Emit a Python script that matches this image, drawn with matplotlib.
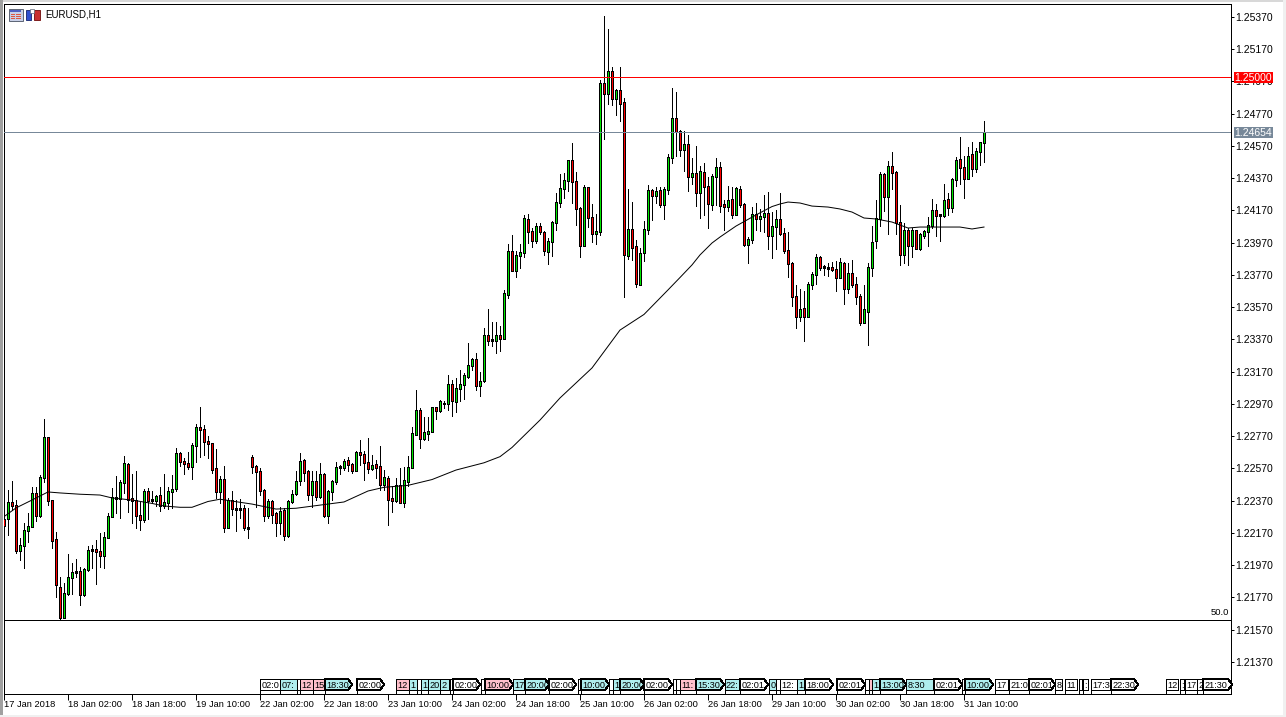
import numpy as np
import matplotlib
matplotlib.use('Agg')
import matplotlib.pyplot as plt
from matplotlib.patches import Polygon, Rectangle
from matplotlib.transforms import blended_transform_factory

plt.rcParams['font.family'] = ['Liberation Sans', 'DejaVu Sans']

W, H = 1286, 717

opens = [
    1.22254,1.22260,1.22359,1.22341,1.22060,1.22093,1.22186,1.22211,1.22415,1.22277,
    1.22514,1.22762,1.22372,1.22130,1.21832,1.21644,1.21793,1.21894,1.21932,1.21932,
    1.21787,1.21944,1.22068,1.22068,1.22056,1.22029,1.22142,1.22273,1.22384,1.22384,
    1.22483,1.22595,1.22384,1.22374,1.22279,1.22254,1.22428,1.22378,1.22370,1.22403,
    1.22337,1.22359,1.22426,1.22446,1.22663,1.22614,1.22601,1.22581,1.22713,1.22825,
    1.22812,1.22738,1.22725,1.22570,1.22426,1.22502,1.22204,1.22370,1.22322,1.22322,
    1.22322,1.22204,1.22639,1.22584,1.22553,1.22435,1.22278,1.22362,1.22288,1.22234,
    1.22307,1.22154,1.22367,1.22412,1.22495,1.22617,1.22548,1.22408,1.22491,1.22395,
    1.22534,1.22278,1.22429,1.22491,1.22575,1.22577,1.22617,1.22596,1.22555,1.22670,
    1.22658,1.22608,1.22569,1.22592,1.22580,1.22470,1.22509,1.22381,1.22371,1.22464,
    1.22360,1.22489,1.22577,1.22782,1.22927,1.22755,1.22786,1.22799,1.22945,1.22929,
    1.22970,1.22970,1.23088,1.22985,1.23067,1.23092,1.23142,1.23210,1.23243,1.23084,
    1.23115,1.23396,1.23367,1.23363,1.23396,1.23375,1.23648,1.23917,1.23799,1.23892,
    1.23908,1.24115,1.24039,1.23983,1.24072,1.24034,1.23915,1.23979,1.24096,1.24220,
    1.24307,1.24355,1.24477,1.24351,1.24183,1.23952,1.24313,1.24127,1.24028,1.24041,
    1.24958,1.24896,1.25033,1.24865,1.24915,1.24840,1.23890,1.24053,1.23948,1.23710,
    1.23910,1.24053,1.24295,1.24262,1.24291,1.24206,1.24299,1.24499,1.24741,1.24661,
    1.24547,1.24580,1.24379,1.24400,1.24280,1.24406,1.24319,1.24206,1.24379,1.24437,
    1.24204,1.24194,1.24239,1.24144,1.24301,1.24208,1.23956,1.23987,1.24146,1.24119,
    1.24132,1.24152,1.24014,1.24070,1.24115,1.24028,1.23923,1.23842,1.23638,1.23511,
    1.23563,1.23514,1.23712,1.23772,1.23879,1.23822,1.23817,1.23817,1.23805,1.23755,
    1.23842,1.23687,1.23780,1.23712,1.23638,1.23474,1.23545,1.23817,1.23983,1.24119,
    1.24394,1.24256,1.24444,1.24406,1.24096,1.23898,1.24047,1.23952,1.24047,1.23933,
    1.24012,1.24041,1.24078,1.24171,1.24142,1.24136,1.24239,1.24189,1.24363,1.24487,
    1.24437,1.24369,1.24518,1.24431,1.24537,1.24593]

highs = [
    1.22271,1.22436,1.22492,1.22374,1.22136,1.22233,1.22291,1.22452,1.22452,1.22529,
    1.22876,1.22762,1.22372,1.22175,1.21898,1.21857,1.22039,1.21981,1.22008,1.21956,
    1.21950,1.22089,1.22095,1.22126,1.22167,1.22178,1.22295,1.22446,1.22523,1.22498,
    1.22647,1.22601,1.22535,1.22554,1.22364,1.22440,1.22446,1.22432,1.22405,1.22452,
    1.22535,1.22452,1.22529,1.22694,1.22674,1.22632,1.22674,1.22725,1.22845,1.22949,
    1.22839,1.22771,1.22729,1.22688,1.22523,1.22585,1.22384,1.22430,1.22374,1.22382,
    1.22343,1.22322,1.22652,1.22594,1.22573,1.22441,1.22379,1.22375,1.22302,1.22329,
    1.22327,1.22375,1.22437,1.22551,1.22668,1.22627,1.22561,1.22551,1.22551,1.22602,
    1.22544,1.22437,1.22499,1.22610,1.22592,1.22627,1.22639,1.22602,1.22681,1.22747,
    1.22675,1.22757,1.22652,1.22623,1.22710,1.22561,1.22520,1.22462,1.22509,1.22571,
    1.22577,1.22648,1.22825,1.23057,1.22943,1.22892,1.22892,1.22949,1.22954,1.22995,
    1.22991,1.23150,1.23119,1.23129,1.23181,1.23164,1.23346,1.23253,1.23284,1.23171,
    1.23439,1.23559,1.23480,1.23480,1.23454,1.23677,1.23962,1.24018,1.23921,1.23962,
    1.24142,1.24148,1.24059,1.24094,1.24090,1.24043,1.23997,1.24107,1.24276,1.24396,
    1.24400,1.24483,1.24586,1.24406,1.24194,1.24328,1.24318,1.24210,1.24148,1.24979,
    1.25376,1.25295,1.25057,1.24921,1.25057,1.24865,1.24301,1.24222,1.23987,1.23935,
    1.24105,1.24328,1.24301,1.24317,1.24317,1.24313,1.24520,1.24927,1.24902,1.24669,
    1.24663,1.24638,1.24493,1.24570,1.24446,1.24466,1.24379,1.24396,1.24493,1.24470,
    1.24235,1.24322,1.24318,1.24313,1.24322,1.24218,1.24008,1.24194,1.24214,1.24181,
    1.24266,1.24282,1.24163,1.24173,1.24276,1.24059,1.24039,1.23853,1.23708,1.23681,
    1.23671,1.23729,1.23791,1.23900,1.23888,1.23834,1.23842,1.23853,1.23859,1.23873,
    1.23853,1.23842,1.23863,1.23759,1.23652,1.23708,1.23846,1.24074,1.24235,1.24409,
    1.24400,1.24477,1.24533,1.24417,1.24204,1.24090,1.24059,1.24059,1.24049,1.24028,
    1.24049,1.24127,1.24241,1.24210,1.24148,1.24334,1.24276,1.24369,1.24499,1.24624,
    1.24508,1.24561,1.24593,1.24555,1.24597,1.24725]

lows = [
    1.22163,1.22157,1.22312,1.22043,1.22002,1.21954,1.22116,1.22204,1.22246,1.22271,
    1.22488,1.22343,1.22078,1.21770,1.21634,1.21640,1.21785,1.21791,1.21898,1.21725,
    1.21779,1.21936,1.21950,1.21853,1.21960,1.21954,1.22136,1.22266,1.22291,1.22260,
    1.22415,1.22302,1.22229,1.22198,1.22188,1.22240,1.22254,1.22357,1.22337,1.22308,
    1.22322,1.22316,1.22322,1.22432,1.22587,1.22535,1.22566,1.22506,1.22612,1.22643,
    1.22653,1.22632,1.22539,1.22388,1.22353,1.22178,1.22202,1.22281,1.22184,1.22260,
    1.22188,1.22140,1.22544,1.22333,1.22408,1.22247,1.22261,1.22234,1.22152,1.22164,
    1.22127,1.22147,1.22358,1.22406,1.22468,1.22489,1.22375,1.22329,1.22375,1.22385,
    1.22271,1.22234,1.22375,1.22474,1.22536,1.22561,1.22551,1.22544,1.22551,1.22592,
    1.22499,1.22540,1.22561,1.22509,1.22437,1.22437,1.22220,1.22302,1.22364,1.22355,
    1.22333,1.22458,1.22571,1.22778,1.22699,1.22747,1.22747,1.22797,1.22875,1.22923,
    1.22947,1.22933,1.22896,1.22923,1.22991,1.22999,1.23129,1.23181,1.23057,1.23020,
    1.23109,1.23336,1.23330,1.23288,1.23301,1.23371,1.23625,1.23797,1.23760,1.23815,
    1.23884,1.23970,1.23941,1.23970,1.24024,1.23894,1.23838,1.23888,1.24049,1.24194,
    1.24245,1.24291,1.24218,1.24080,1.23884,1.23950,1.24070,1.23976,1.23962,1.24018,
    1.24613,1.24830,1.24824,1.24762,1.24727,1.23631,1.23869,1.23863,1.23697,1.23708,
    1.23859,1.24026,1.24111,1.24214,1.24189,1.24117,1.24272,1.24466,1.24508,1.24508,
    1.24415,1.24291,1.24332,1.24198,1.24125,1.24142,1.24061,1.24173,1.24204,1.24162,
    1.24049,1.24167,1.24125,1.24142,1.24194,1.23950,1.23846,1.23970,1.24049,1.24043,
    1.24039,1.23933,1.23877,1.23929,1.24018,1.23904,1.23760,1.23578,1.23443,1.23487,
    1.23363,1.23511,1.23681,1.23714,1.23801,1.23770,1.23764,1.23797,1.23673,1.23749,
    1.23590,1.23660,1.23697,1.23590,1.23460,1.23470,1.23336,1.23766,1.23939,1.24074,
    1.24169,1.24024,1.24301,1.24024,1.23832,1.23842,1.23832,1.23884,1.23931,1.23925,
    1.23997,1.23950,1.24059,1.24012,1.23981,1.24132,1.24142,1.24163,1.24322,1.24334,
    1.24249,1.24363,1.24384,1.24411,1.24452,1.24473]

closes = [
    1.22219,1.22359,1.22337,1.22060,1.22093,1.22186,1.22211,1.22415,1.22277,1.22514,
    1.22762,1.22370,1.22122,1.21849,1.21644,1.21795,1.21894,1.21925,1.21923,1.21787,
    1.21944,1.22062,1.22060,1.22054,1.22029,1.22142,1.22273,1.22390,1.22390,1.22483,
    1.22601,1.22378,1.22374,1.22277,1.22254,1.22428,1.22374,1.22374,1.22395,1.22337,
    1.22359,1.22428,1.22440,1.22663,1.22612,1.22601,1.22581,1.22713,1.22825,1.22812,
    1.22738,1.22725,1.22564,1.22426,1.22502,1.22204,1.22370,1.22322,1.22318,1.22316,
    1.22204,1.22198,1.22584,1.22551,1.22433,1.22278,1.22362,1.22282,1.22234,1.22305,
    1.22154,1.22367,1.22410,1.22491,1.22615,1.22544,1.22408,1.22491,1.22395,1.22534,
    1.22278,1.22429,1.22491,1.22577,1.22580,1.22610,1.22596,1.22555,1.22670,1.22656,
    1.22606,1.22569,1.22590,1.22575,1.22470,1.22511,1.22375,1.22371,1.22464,1.22358,
    1.22493,1.22577,1.22784,1.22927,1.22755,1.22790,1.22801,1.22945,1.22931,1.22983,
    1.22974,1.23088,1.22991,1.23067,1.23092,1.23144,1.23210,1.23243,1.23084,1.23111,
    1.23396,1.23365,1.23363,1.23396,1.23375,1.23652,1.23917,1.23799,1.23892,1.23910,
    1.24121,1.24039,1.23983,1.24072,1.24039,1.23921,1.23979,1.24096,1.24220,1.24307,
    1.24357,1.24477,1.24351,1.24181,1.23952,1.24313,1.24127,1.24028,1.24041,1.24958,
    1.24896,1.25033,1.24865,1.24915,1.24832,1.23898,1.24053,1.23939,1.23716,1.23904,
    1.24053,1.24295,1.24262,1.24289,1.24204,1.24301,1.24499,1.24741,1.24659,1.24547,
    1.24580,1.24379,1.24400,1.24280,1.24413,1.24317,1.24212,1.24382,1.24437,1.24200,
    1.24196,1.24231,1.24144,1.24307,1.24206,1.23956,1.23991,1.24146,1.24119,1.24134,
    1.24152,1.24014,1.24072,1.24115,1.24028,1.23921,1.23840,1.23638,1.23511,1.23557,
    1.23511,1.23712,1.23772,1.23879,1.23817,1.23815,1.23811,1.23805,1.23755,1.23848,
    1.23687,1.23780,1.23710,1.23638,1.23474,1.23557,1.23817,1.23972,1.24119,1.24394,
    1.24256,1.24444,1.24404,1.24096,1.23898,1.24047,1.23952,1.24047,1.23933,1.24022,
    1.24041,1.24078,1.24171,1.24138,1.24136,1.24233,1.24189,1.24363,1.24481,1.24437,
    1.24369,1.24506,1.24431,1.24537,1.24593,1.24654]

ma_bars = [0,3,7,11,14,19,24,27,32,37,40,44,47,51,54,59,62,68,73,81,85,91,95,101,107,113,120,124,127,
           134,139,147,154,160,166,169,172,174,177,179,183,188,192,194,196,199,202,206,209,212,215,218,
           222,226,229,239,242,245]
ma_values = [1.22271,1.22325,1.22374,1.22424,1.22418,1.22410,1.22405,1.22387,1.22374,1.22353,1.22337,
             1.22329,1.22329,1.22365,1.22379,1.22360,1.22349,1.22318,1.22323,1.22349,1.22362,1.22430,
             1.22453,1.22465,1.22501,1.22560,1.22605,1.22643,1.22700,1.22870,1.23007,1.23193,1.23428,
             1.23525,1.23677,1.23754,1.23832,1.23894,1.23968,1.24005,1.24073,1.24142,1.24194,1.24210,
             1.24222,1.24216,1.24197,1.24191,1.24179,1.24160,1.24123,1.24117,1.24098,1.24061,1.24067,
             1.24067,1.24055,1.24067]

level_round = 1.25000
level_last = 1.24654
level_fib = 1.21633

price_ticks = [1.25370,1.25170,1.24970,1.24770,1.24570,1.24370,1.24170,1.23970,1.23770,1.23570,1.23370,
               1.23170,1.22970,1.22770,1.22570,1.22370,1.22170,1.21970,1.21770,1.21570,1.21370]
time_tick_bars = [0,16,32,48,64,80,96,112,128,144,160,176,192,208,224,240]
time_labels = ['17 Jan 2018','18 Jan 02:00','18 Jan 18:00','19 Jan 10:00','22 Jan 02:00','22 Jan 18:00',
               '23 Jan 10:00','24 Jan 02:00','24 Jan 18:00','25 Jan 10:00','26 Jan 02:00','26 Jan 18:00',
               '29 Jan 10:00','30 Jan 02:00','30 Jan 18:00','31 Jan 10:00']

# calendar events along the bottom
event_labels = ['02:0','07:','','12','15','18:30','02:00','12','1','','1','20','2','','02:00','','10:00','17',
                '20:00','02:00','','10:00','','1','20:00','02:00','','','11:','15:30','22:','02:01','0','','12:',
                '1','18:00','02:01','','','1','13:00','8:30','02:01','','10:00','17','21:0','02:01','8:','11','',
                ':','17:3','22:30','12',':','17','2','21:30']
event_start = [64,69,73.25,74,77.25,80.25,88.25,98,101.25,103.25,104.25,106,109.1,111.5,112.25,119.25,120.25,
               127.25,130.25,136.25,143.5,144.25,151.25,152.25,154,160,167.25,168,169,173,180.15,184,191.25,193,
               194,198.25,200.25,208.25,215.25,216.25,217,219.1,225.5,232.5,239.5,240.25,247.75,251.25,256.25,
               262.75,265.25,268.75,269.75,271.75,276.75,290.5,294,295.25,298.25,299.75]
event_end = [69,73.25,74,77.25,80.25,87,95,101.25,103.25,104.25,106,109.1,111.25,112.25,119,120.25,127.25,
             130.25,136.25,143,144.25,151.25,152.25,154,160,167,168,169,173,180,184,191,193,194,198.25,200.25,
             207.25,215.25,216.25,217,219.1,225.5,232.25,239.5,240.25,247.25,251,256.25,262.75,264.5,268.25,
             269.5,271,276.75,283.5,293.5,295,298.25,299.75,307]
event_kind = list('wcwppcwpcwcccwwwpcc' + 'wwcwccwwwpcc' + 'wcwwcwwwpcccwwc' + 'w' * 14)

GREEN = '#00E800'
RED = '#FF0000'
CYAN = '#AFEEEE'
PINK = '#FFC0CB'
kind_colors = {'w': 'white', 'c': CYAN, 'p': PINK}

fig = plt.figure(figsize=(W / 100, H / 100), dpi=100, facecolor='white')
ax = fig.add_axes([4 / W, (H - 694) / H, 1227 / W, 690 / H])
ax.set_xlim(0, 306.75)
ax.set_ylim(1.211711, 1.254502)

bars = np.arange(len(closes))
o = np.array(opens)
c = np.array(closes)
top = np.maximum(o, c)
bot = np.minimum(o, c)
up = c >= o
one_px = (1.254502 - 1.211711) / 690

# wick, then a 3px black body with a 1px coloured core
ax.vlines(bars, lows, highs, colors='black', linewidth=0.72, antialiased=False, capstyle='butt', zorder=2)
ax.vlines(bars, bot - 0.5 * one_px, top + 0.5 * one_px, colors='black', linewidth=2.16, antialiased=False,
          capstyle='butt', zorder=3)
tall = (top - bot) > 1.2 * one_px
ax.vlines(bars[tall], bot[tall] + 0.5 * one_px, top[tall] - 0.5 * one_px,
          colors=[GREEN if u else RED for u in up[tall]], linewidth=0.72, antialiased=False,
          capstyle='butt', zorder=4)
ax.plot(ma_bars, ma_values, color='black', linewidth=0.72, zorder=4.5)

ax.axhline(level_round, color=RED, linewidth=0.72, antialiased=False, zorder=5)
ax.axhline(level_last, color='#778899', linewidth=0.72, antialiased=False, zorder=5)
ax.axhline(level_fib, color='black', linewidth=0.72, antialiased=False, zorder=1)
ax.text(306.2, level_fib + 0.00018, '50.0', ha='right', va='bottom', fontsize=6.8, color='black')

ax.yaxis.tick_right()
ax.set_yticks(price_ticks)
ax.set_yticklabels(['%.5f' % p for p in price_ticks], fontsize=7.5)
ax.tick_params(axis='y', length=2.2, width=0.72, pad=1, color='black')

ax.set_xticks(time_tick_bars)
ax.set_xticklabels(time_labels, fontsize=6.7, ha='left')
ax.tick_params(axis='x', length=4, width=0.72, pad=0.2, color='black')
for sp in ax.spines.values():
    sp.set_linewidth(0.72)

# event tags sit on the time axis
tr = blended_transform_factory(ax.transData, ax.transAxes)
y0, y1 = (694 - 690) / 690, (694 - 679) / 690
for label, a, b, k in zip(event_labels, event_start, event_end, event_kind):
    tip = 1.0 if len(label) == 5 else 0.0
    pts = [(a, y0), (a, y1), (b - tip, y1), (b, (y0 + y1) / 2), (b - tip, y0)]
    poly = Polygon(pts, closed=True, transform=tr, facecolor=kind_colors[k], edgecolor='black',
                   linewidth=0.72, antialiased=False, zorder=6, clip_on=False)
    ax.add_patch(poly)
    ax.plot([a, a], [0, y0], transform=tr, color='black', linewidth=0.72, antialiased=False, zorder=6)
    if label:
        txt = ax.text(a + 0.3, (y0 + y1) / 2, label, transform=tr, ha='left', va='center_baseline',
                      fontsize=6.6, color='black', zorder=7, clip_on=True)
        txt.set_clip_path(poly)

# window furniture in pixel coordinates
ov = fig.add_axes([0, 0, 1, 1], facecolor='none')
ov.set_xlim(0, W)
ov.set_ylim(H, 0)
ov.axis('off')

ov.add_patch(Rectangle((0, 0), W, 1.5, color='#D8D8D8', lw=0))
ov.add_patch(Rectangle((0, 0), 2.5, H, color='#A0A0A0', lw=0))
ov.add_patch(Rectangle((0, 714.5), W, 2.5, color='#F0F0F0', lw=0))
ov.add_patch(Rectangle((1283, 0), 3, H, color='#F0F0F0', lw=0))

# chart window icon and file icons
ov.add_patch(Rectangle((8.5, 8.5), 14, 12, facecolor='#C8D0E8', edgecolor='#606878', lw=0.72))
ov.add_patch(Rectangle((10, 10), 11, 2, color='#5060C0', lw=0))
for yy in (13.5, 15.5, 17.5):
    ov.add_patch(Rectangle((10.5, yy), 4, 1.2, color='#E05840', lw=0))
    ov.add_patch(Rectangle((16, yy), 4.5, 1.2, color='#E05840', lw=0))
ov.add_patch(Rectangle((25.5, 9.5), 5.5, 10.5, facecolor='#3050D0', edgecolor='#283880', lw=0.72))
ov.add_patch(Rectangle((33.5, 9.5), 6, 10.5, facecolor='#C83030', edgecolor='#802020', lw=0.72))
ov.add_patch(Rectangle((30, 9), 4, 4, facecolor='white', edgecolor='#606878', lw=0.5))
ov.text(45, 14.5, 'EURUSD,H1', fontsize=7, ha='left', va='center', color='black')

# price tags over the axis labels
ov.add_patch(Rectangle((1234, 72), 39, 11, color='#FF0000', lw=0))
ov.text(1253.5, 77.7, '1.25000', fontsize=7.5, ha='center', va='center', color='white')
ov.add_patch(Rectangle((1234, 127), 39, 11, color='#778899', lw=0))
ov.text(1253.5, 132.7, '1.24654', fontsize=7.5, ha='center', va='center', color='white')

fig.savefig('out.png', dpi=100)
